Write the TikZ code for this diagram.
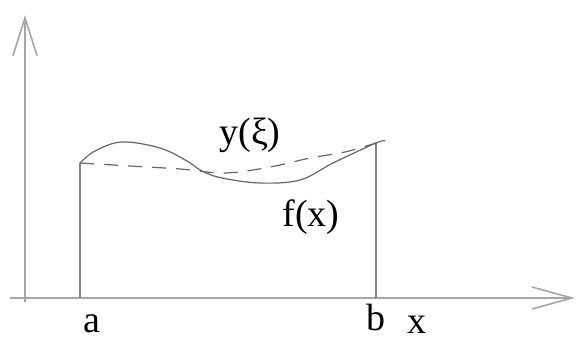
\documentclass[tikz,border=0pt]{standalone}
\usepackage{fontspec}
\setmainfont{Liberation Serif}
\usetikzlibrary{arrows.meta}
\tikzset{axis/.style = {line width=1.6pt, draw=black!35}}
\tikzset{bar/.style = {line width=1.4pt, draw=black!50}}
\tikzset{curve/.style = {line width=1.2pt, draw=black!60}}
\tikzset{lbl/.style = {inner sep=0, font=\fontsize{38}{40}\selectfont}}
\tikzset{every picture/.style={x=1pt, y=-1pt}}

\begin{document}
\begin{tikzpicture}
    \useasboundingbox (0,0) rectangle (576,341);
    % axes
    \coordinate (x0) at (10,298);
    \coordinate (x1) at (575,298);
    \coordinate (y0) at (25,302);
    \coordinate (y1) at (25,15);
    \draw[axis, -{Straight Barb[length=40pt, width=22pt]}] (x0) -- (x1);
    \draw[axis, -{Straight Barb[length=38pt, width=24pt]}] (y0) -- (y1);
    % ends of the interval
    \coordinate (a0) at (80,298);
    \coordinate (a1) at (80,163);
    \coordinate (b0) at (376,298);
    \coordinate (b1) at (376,143);
    \draw[bar] (a0) -- (a1);
    \draw[bar] (b0) -- (b1);
    % y(xi)
    \draw[curve] plot[smooth, tension=0.6] coordinates {(a1) (95,151) (122,142)
      (160,148) (187,161) (202,171) (222,178) (260,183) (300,180) (333,163)
      (b1) (385,141)};
    % f(x)
    \draw[curve, dashed, dash pattern=on 14pt off 10pt] plot[smooth, tension=0.6]
      coordinates {(a1) (130,166) (180,169) (225,173) (270,167) (310,158)
      (345,152) (b1)};
    \node[lbl] (ylbl) at (250,135) {y(ξ)};
    \node[lbl] (flbl) at (311,217) {f(x)};
    \node[lbl, anchor=base] (albl) at (92,332) {a};
    \node[lbl, anchor=base] (blbl) at (376,330) {b};
    \node[lbl, anchor=base] (xlbl) at (417,333) {x};
  \end{tikzpicture}
\end{document}
